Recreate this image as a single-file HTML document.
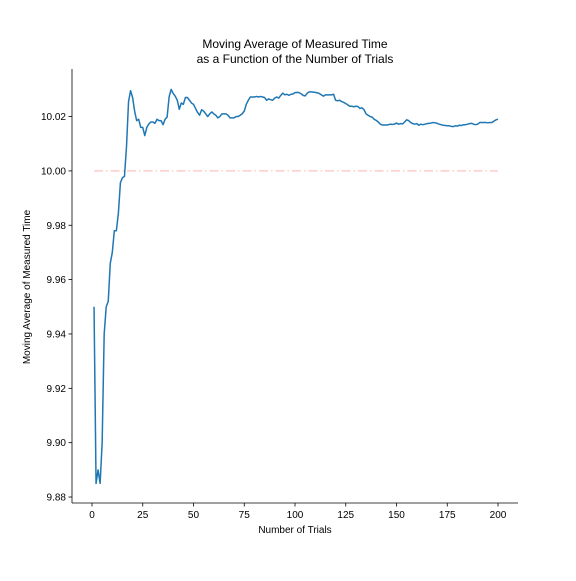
<!DOCTYPE html>
<html><head><meta charset="utf-8"><style>body{margin:0;background:#fff}svg{font-family:"Liberation Sans","DejaVu Sans",sans-serif}</style></head>
<body>
<svg id="chart" width="576" height="576" viewBox="0 0 576 576"></svg>
<script>
const trials = Array.from({length:200},(_, i)=>i+1);
const movingAvg = [9.950,9.885,9.890,9.885,9.900,9.940,9.950,9.952,9.966,9.970,
9.978,9.978,9.9845,9.9957,9.9975,9.998,10.009,10.0255,10.0295,10.027,
10.022,10.0185,10.019,10.016,10.016,10.013,10.016,10.0173,10.018,10.018,
10.0175,10.019,10.0185,10.0185,10.017,10.019,10.0198,10.0273,10.030,10.0285,
10.0275,10.026,10.0227,10.025,10.0245,10.027,10.027,10.026,10.025,10.0245,
10.023,10.0215,10.0205,10.0225,10.022,10.021,10.020,10.021,10.0217,10.021,
10.0205,10.0195,10.020,10.021,10.021,10.021,10.0205,10.0195,10.0195,10.0195,
10.020,10.020,10.0205,10.021,10.022,10.0245,10.026,10.0272,10.0272,10.0272,
10.0274,10.0272,10.0274,10.0272,10.027,10.026,10.0265,10.0262,10.026,10.0268,
10.0272,10.0268,10.0278,10.0286,10.028,10.0282,10.0278,10.0282,10.0283,10.0288,
10.0289,10.0288,10.0284,10.0278,10.0276,10.0286,10.0291,10.0291,10.029,10.0289,
10.0287,10.0285,10.028,10.0275,10.028,10.028,10.028,10.028,10.0282,10.026,
10.0258,10.026,10.0255,10.0252,10.0248,10.0243,10.0238,10.0238,10.0236,10.0238,
10.0237,10.023,10.0232,10.0225,10.021,10.0205,10.020,10.0198,10.019,10.0186,
10.018,10.0172,10.0169,10.0169,10.0169,10.017,10.0172,10.0171,10.0172,10.0176,
10.0172,10.0174,10.0173,10.018,10.0188,10.0185,10.0178,10.0174,10.0172,10.0174,
10.0168,10.0172,10.017,10.0172,10.0174,10.0175,10.0176,10.0178,10.0177,10.0175,
10.0172,10.017,10.0168,10.0167,10.0166,10.0166,10.0164,10.0163,10.0166,10.0165,
10.0168,10.0167,10.017,10.017,10.0172,10.0174,10.0175,10.0172,10.017,10.0172,
10.0178,10.0178,10.0178,10.0178,10.0177,10.0178,10.0178,10.0183,10.0188,10.019];
const trueValue = [10.0];
const xTicks = [0,25,50,75,100,125,150,175,200];
const yTicks = [9.88,9.90,9.92,9.94,9.96,9.98,10.00,10.02];

const L=72,R=518,T=69,B=503;
const xMin=-9.85,xMax=209.85,yMin=9.8778,yMax=10.0375;
const sx=v=>L+(v-xMin)/(xMax-xMin)*(R-L);
const sy=v=>B-(v-yMin)/(yMax-yMin)*(B-T);
const svg=document.getElementById('chart');
const NS='http://www.w3.org/2000/svg';
function mk(tag,attrs,parent){const e=document.createElementNS(NS,tag);for(const k in attrs)e.setAttribute(k,attrs[k]);(parent||svg).appendChild(e);return e;}

let ref=mk('line',{x1:sx(trials[0]),x2:sx(trials[trials.length-1]),y1:sy(trueValue[0]),y2:sy(trueValue[0]),stroke:'#ff9999','stroke-opacity':0.5,'stroke-width':1.5,'stroke-dasharray':'9,3,1.5,3'});



let d=trials.map((t,i)=>(i?'L':'M')+sx(t).toFixed(2)+','+sy(movingAvg[i]).toFixed(2)).join('');
let line=mk('path',{d:d,fill:'none',stroke:'#1f77b4','stroke-width':1.5,'stroke-linejoin':'round'});



let ax=mk('line',{x1:L,x2:L,y1:T,y2:B,stroke:'#000','stroke-width':0.8});


let bx=mk('line',{x1:L,x2:R,y1:B,y2:B,stroke:'#000','stroke-width':0.8});



xTicks.forEach(v=>{
  const x=sx(v);
  mk('line',{x1:x,x2:x,y1:B,y2:B+3.5,stroke:'#000','stroke-width':0.8});
  const t=mk('text',{x:x,y:B+15,'font-size':10,'text-anchor':'middle'});
  t.textContent=v;
  
  
});
yTicks.forEach(v=>{
  const y=sy(v);
  mk('line',{x1:L-3.5,x2:L,y1:y,y2:y,stroke:'#000','stroke-width':0.8});
  const t=mk('text',{x:L-6,y:y+3.5,'font-size':10,'text-anchor':'end'});
  t.textContent=v.toFixed(2);
  
  
});

let t1=mk('text',{x:295,y:48,'font-size':12,'text-anchor':'middle'});t1.textContent='Moving Average of Measured Time';


let t2=mk('text',{x:295,y:63,'font-size':12,'text-anchor':'middle'});t2.textContent='as a Function of the Number of Trials';


let xl=mk('text',{x:295,y:533,'font-size':10,'text-anchor':'middle'});xl.textContent='Number of Trials';


let yl=mk('text',{x:30,y:287,'font-size':10,'text-anchor':'middle',transform:'rotate(-90 30 287)'});yl.textContent='Moving Average of Measured Time';


</script>
</body></html>
